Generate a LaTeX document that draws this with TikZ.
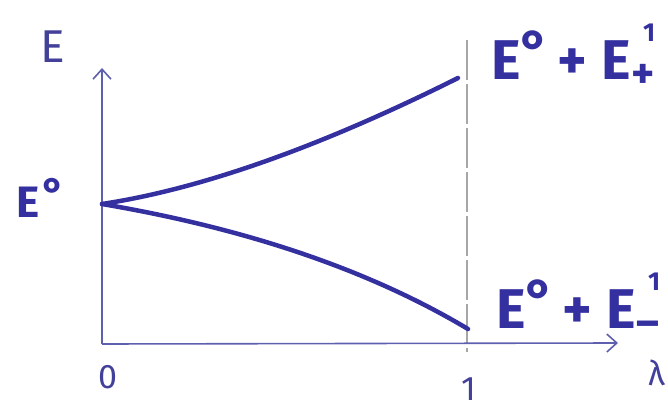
\documentclass[tikz,border=0pt]{standalone}
\usepackage{fontspec}
\setmainfont{Fira Sans}
\usetikzlibrary{arrows.meta}
\definecolor{ink}{RGB}{52,48,160}
\definecolor{axisink}{RGB}{95,95,175}
\newcommand{\supone}{\rlap{\hspace{12pt}\raisebox{38pt}{\fontsize{26}{26}\selectfont\bfseries 1}}}
\newcommand{\subsym}[1]{\raisebox{-9pt}{\fontsize{44}{44}\selectfont #1}}
\newcommand{\degsup}{\raisebox{9pt}{°}}
\tikzset{
  axisline/.style={draw=axisink, line width=1.6pt, -{Straight Barb[length=10pt,width=18pt,line width=1.6pt]}},
  curveline/.style={draw=ink, line width=4.5pt, line cap=round},
  guide/.style={draw=gray!70, line width=1.3pt, dash pattern=on 40pt off 4pt},
  biglabel/.style={text=ink, font=\fontsize{56}{56}\selectfont\bfseries, inner sep=0pt, anchor=base west},
  smalllabel/.style={text=ink!80!gray, font=\fontsize{34}{34}\selectfont, inner sep=0pt, anchor=base},
  pt/.style={inner sep=0pt, minimum size=0pt}
}
\begin{document}
\begin{tikzpicture}[x=1pt,y=-1pt]
\useasboundingbox (0,0) rectangle (668,411);
% axes
\coordinate (origin) at (102,344);
\coordinate (ytip) at (102,68);
\coordinate (xtip) at (618,343);
\coordinate (gtop) at (467,40);
\coordinate (gbot) at (467,352);
\draw[guide] (gtop) -- (gbot);
\draw[axisline] (origin) -- (ytip);
\draw[axisline] (origin) -- (xtip);
% curve end points
\node[pt] (start) at (102,204) {};
\node[pt] (upper) at (458,78) {};
\node[pt] (lower) at (468,329) {};
\draw[curveline] (start.center) .. controls (201,189) and (320,147) .. (upper.center);
\draw[curveline] (start.center) .. controls (249,229) and (371,271) .. (lower.center);
% labels
\node[smalllabel, font=\fontsize{46}{46}\selectfont] (elab) at (53,63) {E};
\node[biglabel, font=\fontsize{44}{44}\selectfont\bfseries] (e0) at (16,218) {E\hspace{3pt}\raisebox{8pt}{°}};
\node[biglabel] (eplus) at (491,80) {E\degsup\hspace{8pt}+\hspace{14pt}E\supone\subsym{+}};
\node[biglabel] (eminus) at (496,328) {E\degsup\hspace{8pt}+\hspace{14pt}E\supone\subsym{\textendash}};
\node[smalllabel] (zero) at (108,388) {0};
\node[smalllabel] (one) at (469,400) {1};
\node[smalllabel] (lam) at (657,385) {λ};
\end{tikzpicture}
\end{document}
